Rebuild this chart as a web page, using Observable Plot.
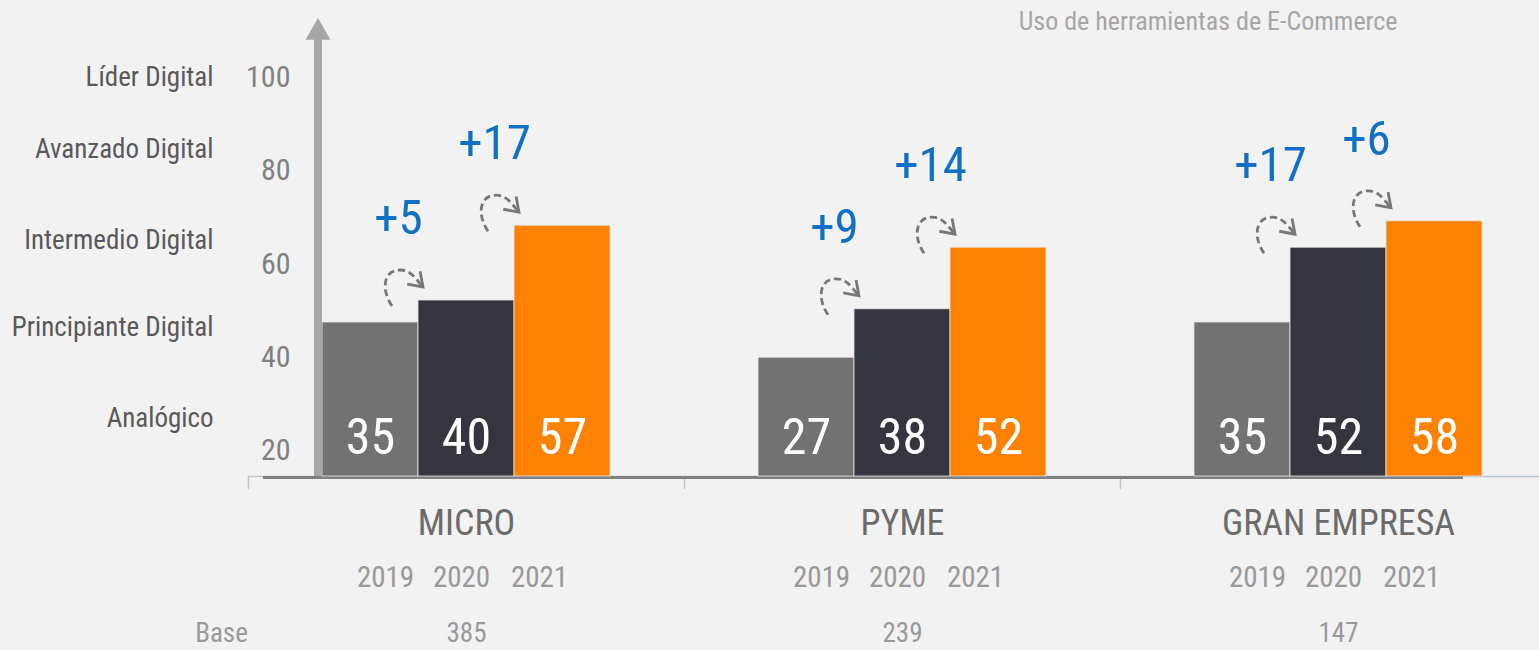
<!DOCTYPE html>
<html><head><meta charset="utf-8">
<script src="https://cdn.jsdelivr.net/npm/d3@7"></script>
<script src="https://cdn.jsdelivr.net/npm/@observablehq/plot@0.6"></script>
<style>
html,body{margin:0;padding:0;background:#f2f2f2;overflow:hidden}
#chart svg{display:block}
</style></head>
<body><div id="chart"></div>
<script>
// ---- data ----
const groups = ["MICRO", "PYME", "GRAN EMPRESA"];
const years = ["2019", "2020", "2021"];
const microValues = [35, 40, 57];
const pymeValues = [27, 38, 52];
const granValues = [35, 52, 58];
const microDeltas = [null, 5, 17];
const pymeDeltas = [null, 9, 14];
const granDeltas = [null, 17, 6];
const bases = [385, 239, 147];
const barColors = ["#757170", "#33363f", "#fd8204"];
const axisTicks = [20, 40, 60, 80, 100];
const levelLabels = ["Líder Digital", "Avanzado Digital", "Intermedio Digital", "Principiante Digital", "Analógico"];
const levelAt = [100, 84.5, 65, 46.5, 27];
const titleText = "Uso de herramientas de E-Commerce";
const baseLabel = "Base";

// the printed 20–100 axis is a decorative scale offset from the bar scale
const axisToBar = v => 5.9 + (v - 20) * 1.06;

const valueSets = [microValues, pymeValues, granValues];
const deltaSets = [microDeltas, pymeDeltas, granDeltas];
const rows = [];
groups.forEach((g, gi) => years.forEach((y, yi) => rows.push({
  group: g, year: y, value: valueSets[gi][yi], delta: deltaSets[gi][yi]
})));
const deltaRows = rows.filter(d => d.delta != null);
const groupRows = groups.map((g, i) => ({group: g, base: bases[i]}));

const FONT = "'Liberation Sans Narrow','Roboto Condensed','Arial Narrow','DejaVu Sans Condensed',sans-serif";

function curlArrows(data) {
  return Plot.dot(data, {
    fx: "group", x: "year", y: "value",
    render(index, scales, values) {
      const g = d3.create("svg:g").attr("fill", "none").attr("stroke", "#777777")
        .attr("stroke-width", 2.8).attr("stroke-linecap", "butt");
      for (const i of index) {
        const X = values.x[i], Y = values.y[i];
        const p = (dx, dy) => `${X + dx},${Y + dy}`;
        g.append("path").attr("stroke-dasharray", "7,4")
          .attr("d", `M${p(-26, 6)}C${p(-37, -10)} ${p(-35, -30)} ${p(-18, -30)}C${p(-7, -30)} ${p(-3, -22)} ${p(5, -13)}`);
        const tip = [5, -13];
        const ang = Math.atan2(8, 8);
        const L = 16, h = 0.6;
        const w1 = [tip[0] - L * Math.cos(ang - h), tip[1] - L * Math.sin(ang - h)];
        const w2 = [tip[0] - L * Math.cos(ang + h), tip[1] - L * Math.sin(ang + h)];
        g.append("path").attr("d", `M${p(...w1)}L${p(...tip)}L${p(...w2)}`);
      }
      return g.node();
    }
  });
}

const chart = Plot.plot({
  width: 1539, height: 650,
  marginLeft: 248, marginRight: 0, marginTop: 36, marginBottom: 174,
  style: {background: "#f2f2f2", fontFamily: FONT},
  fx: {domain: groups, padding: 0, range: [248, 1556], axis: null},
  x: {domain: years, paddingInner: 0, paddingOuter: 0.75, axis: null},
  y: {domain: [0, 100], axis: null},
  color: {domain: years, range: barColors},
  marks: [
    Plot.frame({anchor: "bottom", stroke: "#bcc6d2", strokeWidth: 1.5}),
    Plot.frame({anchor: "left", insetTop: 440, insetBottom: -12, stroke: "#bcc6d2", strokeWidth: 1.5}),
    Plot.ruleY([{group: "MICRO", v: 0}], {fx: "group", y: "v", insetLeft: 15, dy: 1, stroke: "#808080", strokeWidth: 3}),
    Plot.ruleY([{group: "PYME", v: 0}], {fx: "group", y: "v", dy: 1, stroke: "#808080", strokeWidth: 3}),
    Plot.ruleY([{group: "GRAN EMPRESA", v: 0}], {fx: "group", y: "v", insetRight: 93, dy: 1, stroke: "#808080", strokeWidth: 3}),
    Plot.barY(rows, {fx: "group", x: "year", y: "value", fill: "year", inset: 0, stroke: "#e6e6e6", strokeWidth: 0.8}),
    // vertical arrow of the left axis
    Plot.ruleX([{group: "MICRO", year: "2019"}], {fx: "group", x: "year", dx: -52.5, stroke: "#a6a6a6", strokeWidth: 8}),
    Plot.dot([{group: "MICRO", year: "2019"}], {fx: "group", x: "year", frameAnchor: "top", dx: -52.5, dy: -4,
      symbol: "triangle", r: 9.3, fill: "#a6a6a6", stroke: null}),
    // axis tick labels
    Plot.text(axisTicks, {fx: () => "MICRO", y: d => axisToBar(d), text: d => String(d), frameAnchor: "left",
      dx: 42, textAnchor: "end", lineAnchor: "middle", fontSize: 30, fill: "#808080"}),
    // level labels
    Plot.text(levelLabels, {fx: () => "MICRO", y: (d, i) => axisToBar(levelAt[i]), text: d => d, frameAnchor: "left",
      dx: -35, textAnchor: "end", lineAnchor: "middle", fontSize: 27, fill: "#595959"}),
    // bar values
    Plot.text(rows, {fx: "group", x: "year", text: d => String(d.value), frameAnchor: "bottom", dy: -39,
      lineAnchor: "middle", fontSize: 50, fill: "white"}),
    // deltas
    Plot.text(deltaRows, {fx: "group", x: "year", y: "value", text: d => "+" + d.delta, dx: -68, dy: -82,
      lineAnchor: "middle", fontSize: 49, fill: "#1170c4"}),
    curlArrows(deltaRows),
    // group labels
    Plot.text(groupRows, {fx: "group", text: "group", frameAnchor: "bottom", dy: 47, lineAnchor: "middle",
      fontSize: 36, fill: "#6b6b6b"}),
    // year labels
    Plot.text(rows.filter(d => d.year === years[0]), {fx: "group", x: "year", text: "year", frameAnchor: "bottom", dy: 101, dx: 15,
      lineAnchor: "middle", fontSize: 29, fill: "#999999"}),
    Plot.text(rows.filter(d => d.year === years[1]), {fx: "group", x: "year", text: "year", frameAnchor: "bottom", dy: 101, dx: -5,
      lineAnchor: "middle", fontSize: 29, fill: "#999999"}),
    Plot.text(rows.filter(d => d.year === years[2]), {fx: "group", x: "year", text: "year", frameAnchor: "bottom", dy: 101, dx: -23,
      lineAnchor: "middle", fontSize: 29, fill: "#999999"}),
    // base
    Plot.text(groupRows, {fx: "group", text: d => String(d.base), frameAnchor: "bottom", dy: 157, lineAnchor: "middle",
      fontSize: 27, fill: "#999999"}),
    Plot.text([baseLabel], {fx: () => "MICRO", text: d => d, frameAnchor: "bottom-left", dx: -27, dy: 157,
      textAnchor: "middle", lineAnchor: "middle", fontSize: 27, fill: "#999999"}),
    // title
    Plot.text([titleText], {fx: () => "GRAN EMPRESA", text: d => d, frameAnchor: "top-right", dx: -159, dy: -15,
      textAnchor: "end", lineAnchor: "middle", fontSize: 26, fill: "#a6a6a6"})
  ]
});
document.getElementById("chart").append(chart);
</script>
</body></html>
